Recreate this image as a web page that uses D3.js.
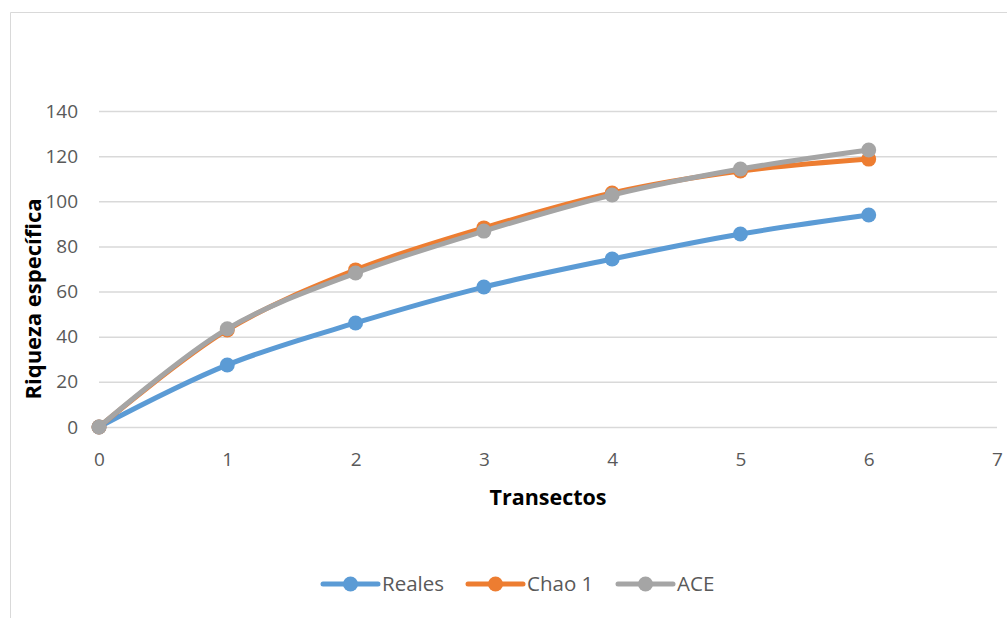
<!DOCTYPE html>
<html>
<head>
<meta charset="utf-8">
<script src="https://cdn.jsdelivr.net/npm/d3@7"></script>
<style>
  html, body { margin: 0; padding: 0; background: #fff; }
  svg { display: block; }
  text { font-family: "Open Sans", "Liberation Sans", sans-serif; }
</style>
</head>
<body>
<svg id="chart" width="1007" height="618"></svg>
<script>
// Species richness accumulation per transect
const transectos = [0, 1, 2, 3, 4, 5, 6];
const reales = [0, 27.5, 46.1, 62.0, 74.4, 85.5, 93.9];
const chao1  = [0, 43.0, 69.6, 88.2, 103.7, 113.4, 118.7];
const ace    = [0, 43.5, 68.2, 86.8, 102.8, 114.3, 122.7];

const xTicks = [0, 1, 2, 3, 4, 5, 6, 7];
const yTicks = [0, 20, 40, 60, 80, 100, 120, 140];

const seriesNames  = ["Reales", "Chao 1", "ACE"];
const seriesValues = [reales, chao1, ace];
const seriesColors = ["#5B9BD5", "#ED7D31", "#A5A5A5"];

const svg = d3.select("#chart");

// outer chart frame
svg.append("path")
  .attr("d", "M10.5,630 V12.5 H1020")
  .attr("fill", "none")
  .attr("stroke", "#D9D9D9")
  .attr("stroke-width", 1);

const x = d3.scaleLinear().domain([0, 7]).range([99, 997]);
const y = d3.scaleLinear().domain([0, 140]).range([427, 111]);

// horizontal gridlines
svg.append("g")
  .selectAll("line")
  .data(yTicks)
  .join("line")
  .attr("x1", x(0)).attr("x2", x(7))
  .attr("y1", d => y(d) + 0.5).attr("y2", d => y(d) + 0.5)
  .attr("stroke", "#D9D9D9")
  .attr("stroke-width", 1.5);

// y axis labels
const yAxis = svg.append("g")
  .attr("transform", `translate(${x(0) - 21},0)`)
  .call(d3.axisLeft(y).tickValues(yTicks).tickFormat(d3.format("d")).tickSize(0).tickPadding(0));
yAxis.select(".domain").remove();
yAxis.selectAll("text")
  .attr("fill", "#595959")
  .style("font-size", "19px")
  .style("font-family", "'Open Sans', sans-serif");

// x axis labels
const xAxis = svg.append("g")
  .attr("transform", `translate(0,${y(0) + 25})`)
  .call(d3.axisBottom(x).tickValues(xTicks).tickFormat(d3.format("d")).tickSize(0).tickPadding(0));
xAxis.select(".domain").remove();
xAxis.selectAll("text")
  .attr("fill", "#595959")
  .style("font-size", "19px")
  .style("font-family", "'Open Sans', sans-serif");

// axis titles
svg.append("text")
  .attr("x", (x(0) + x(7)) / 2)
  .attr("y", 505)
  .attr("text-anchor", "middle")
  .attr("font-weight", "bold")
  .attr("font-size", "21.5px")
  .attr("fill", "#000")
  .text("Transectos");

svg.append("text")
  .attr("transform", "translate(41,299) rotate(-90)")
  .attr("text-anchor", "middle")
  .attr("font-weight", "bold")
  .attr("font-size", "22px")
  .attr("fill", "#000")
  .text("Riqueza específica");

// smoothed series lines and markers
const line = d3.line()
  .x((d, i) => x(transectos[i]))
  .y(d => y(d))
  .curve(d3.curveCatmullRom.alpha(0.5));

seriesValues.forEach((vals, s) => {
  const g = svg.append("g");
  g.append("path")
    .datum(vals)
    .attr("d", line)
    .attr("fill", "none")
    .attr("stroke", seriesColors[s])
    .attr("stroke-width", 5)
    .attr("stroke-linecap", "round")
    .attr("stroke-linejoin", "round");
  g.selectAll("circle")
    .data(vals)
    .join("circle")
    .attr("cx", (d, i) => x(transectos[i]))
    .attr("cy", d => y(d))
    .attr("r", 7.5)
    .attr("fill", seriesColors[s]);
});

// legend
const legendX = [323, 468, 618];
const legendY = 584;
const legend = svg.append("g");
seriesNames.forEach((name, s) => {
  const lg = legend.append("g").attr("transform", `translate(${legendX[s]},${legendY})`);
  lg.append("line")
    .attr("x1", 0).attr("x2", 55)
    .attr("stroke", seriesColors[s])
    .attr("stroke-width", 5)
    .attr("stroke-linecap", "round");
  lg.append("circle")
    .attr("cx", 27.5).attr("r", 7.5)
    .attr("fill", seriesColors[s]);
  lg.append("text")
    .attr("x", 59)
    .attr("dy", "0.35em")
    .attr("font-size", "20.5px")
    .attr("fill", "#595959")
    .text(name);
});
</script>
</body>
</html>
